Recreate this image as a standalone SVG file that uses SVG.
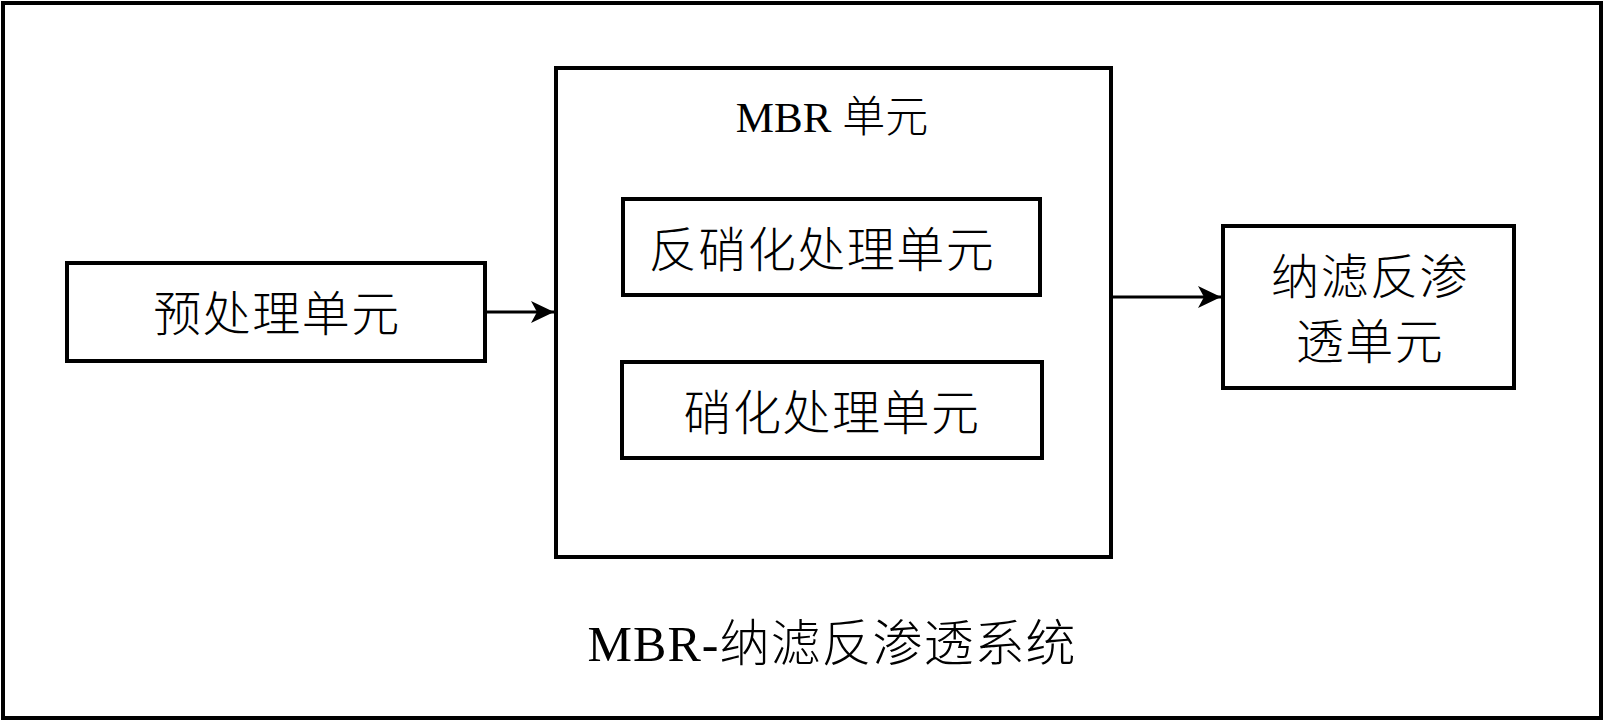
<svg xmlns="http://www.w3.org/2000/svg" width="1605" height="723" viewBox="0 0 1605 723">
<style>
.box{fill:#fff;stroke:#000;stroke-width:4}
.t{font-family:"Liberation Serif","Noto Sans CJK SC",serif;fill:#000;text-anchor:middle;font-weight:300}
.c{font-size:48px;letter-spacing:1.5px}
.conn{stroke:#000;stroke-width:3;fill:none}
</style>
<defs>
<marker id="ah" markerUnits="userSpaceOnUse" viewBox="-26 -13 28 26" refX="0" refY="0" markerWidth="28" markerHeight="26" orient="auto">
<path d="M -23 -11 L 0 0 L -23 11 L -17 0 Z" fill="#000"/>
</marker>
</defs>
<rect width="1605" height="723" fill="#fff"/>
<g id="system">
<rect class="box" x="3" y="3" width="1598" height="715"/>
<text class="t" x="832" y="661" style="font-size:50px;letter-spacing:1px">MBR-纳滤反渗透系统</text>
</g>
<g id="pretreatment">
<rect class="box" x="67" y="263" width="418" height="98"/>
<text class="t c" x="277" y="331">预处理单元</text>
</g>
<g id="mbr">
<rect class="box" x="556" y="68" width="555" height="489"/>
<text class="t" x="832" y="132" style="font-size:43px">MBR 单元</text>
</g>
<g id="denitrification">
<rect class="box" x="623" y="199" width="417" height="96"/>
<text class="t c" x="822" y="267">反硝化处理单元</text>
</g>
<g id="nitrification">
<rect class="box" x="622" y="362" width="420" height="96"/>
<text class="t c" x="832" y="430">硝化处理单元</text>
</g>
<g id="nf-ro">
<rect class="box" x="1223" y="226" width="291" height="162"/>
<text class="t c" x="1370" y="294">纳滤反渗</text>
<text class="t c" x="1370" y="359">透单元</text>
</g>
<g id="connectors">
<line class="conn" x1="486" y1="312" x2="554" y2="312" marker-end="url(#ah)"/>
<line class="conn" x1="1113" y1="297" x2="1221" y2="297" marker-end="url(#ah)"/>
</g>
</svg>
